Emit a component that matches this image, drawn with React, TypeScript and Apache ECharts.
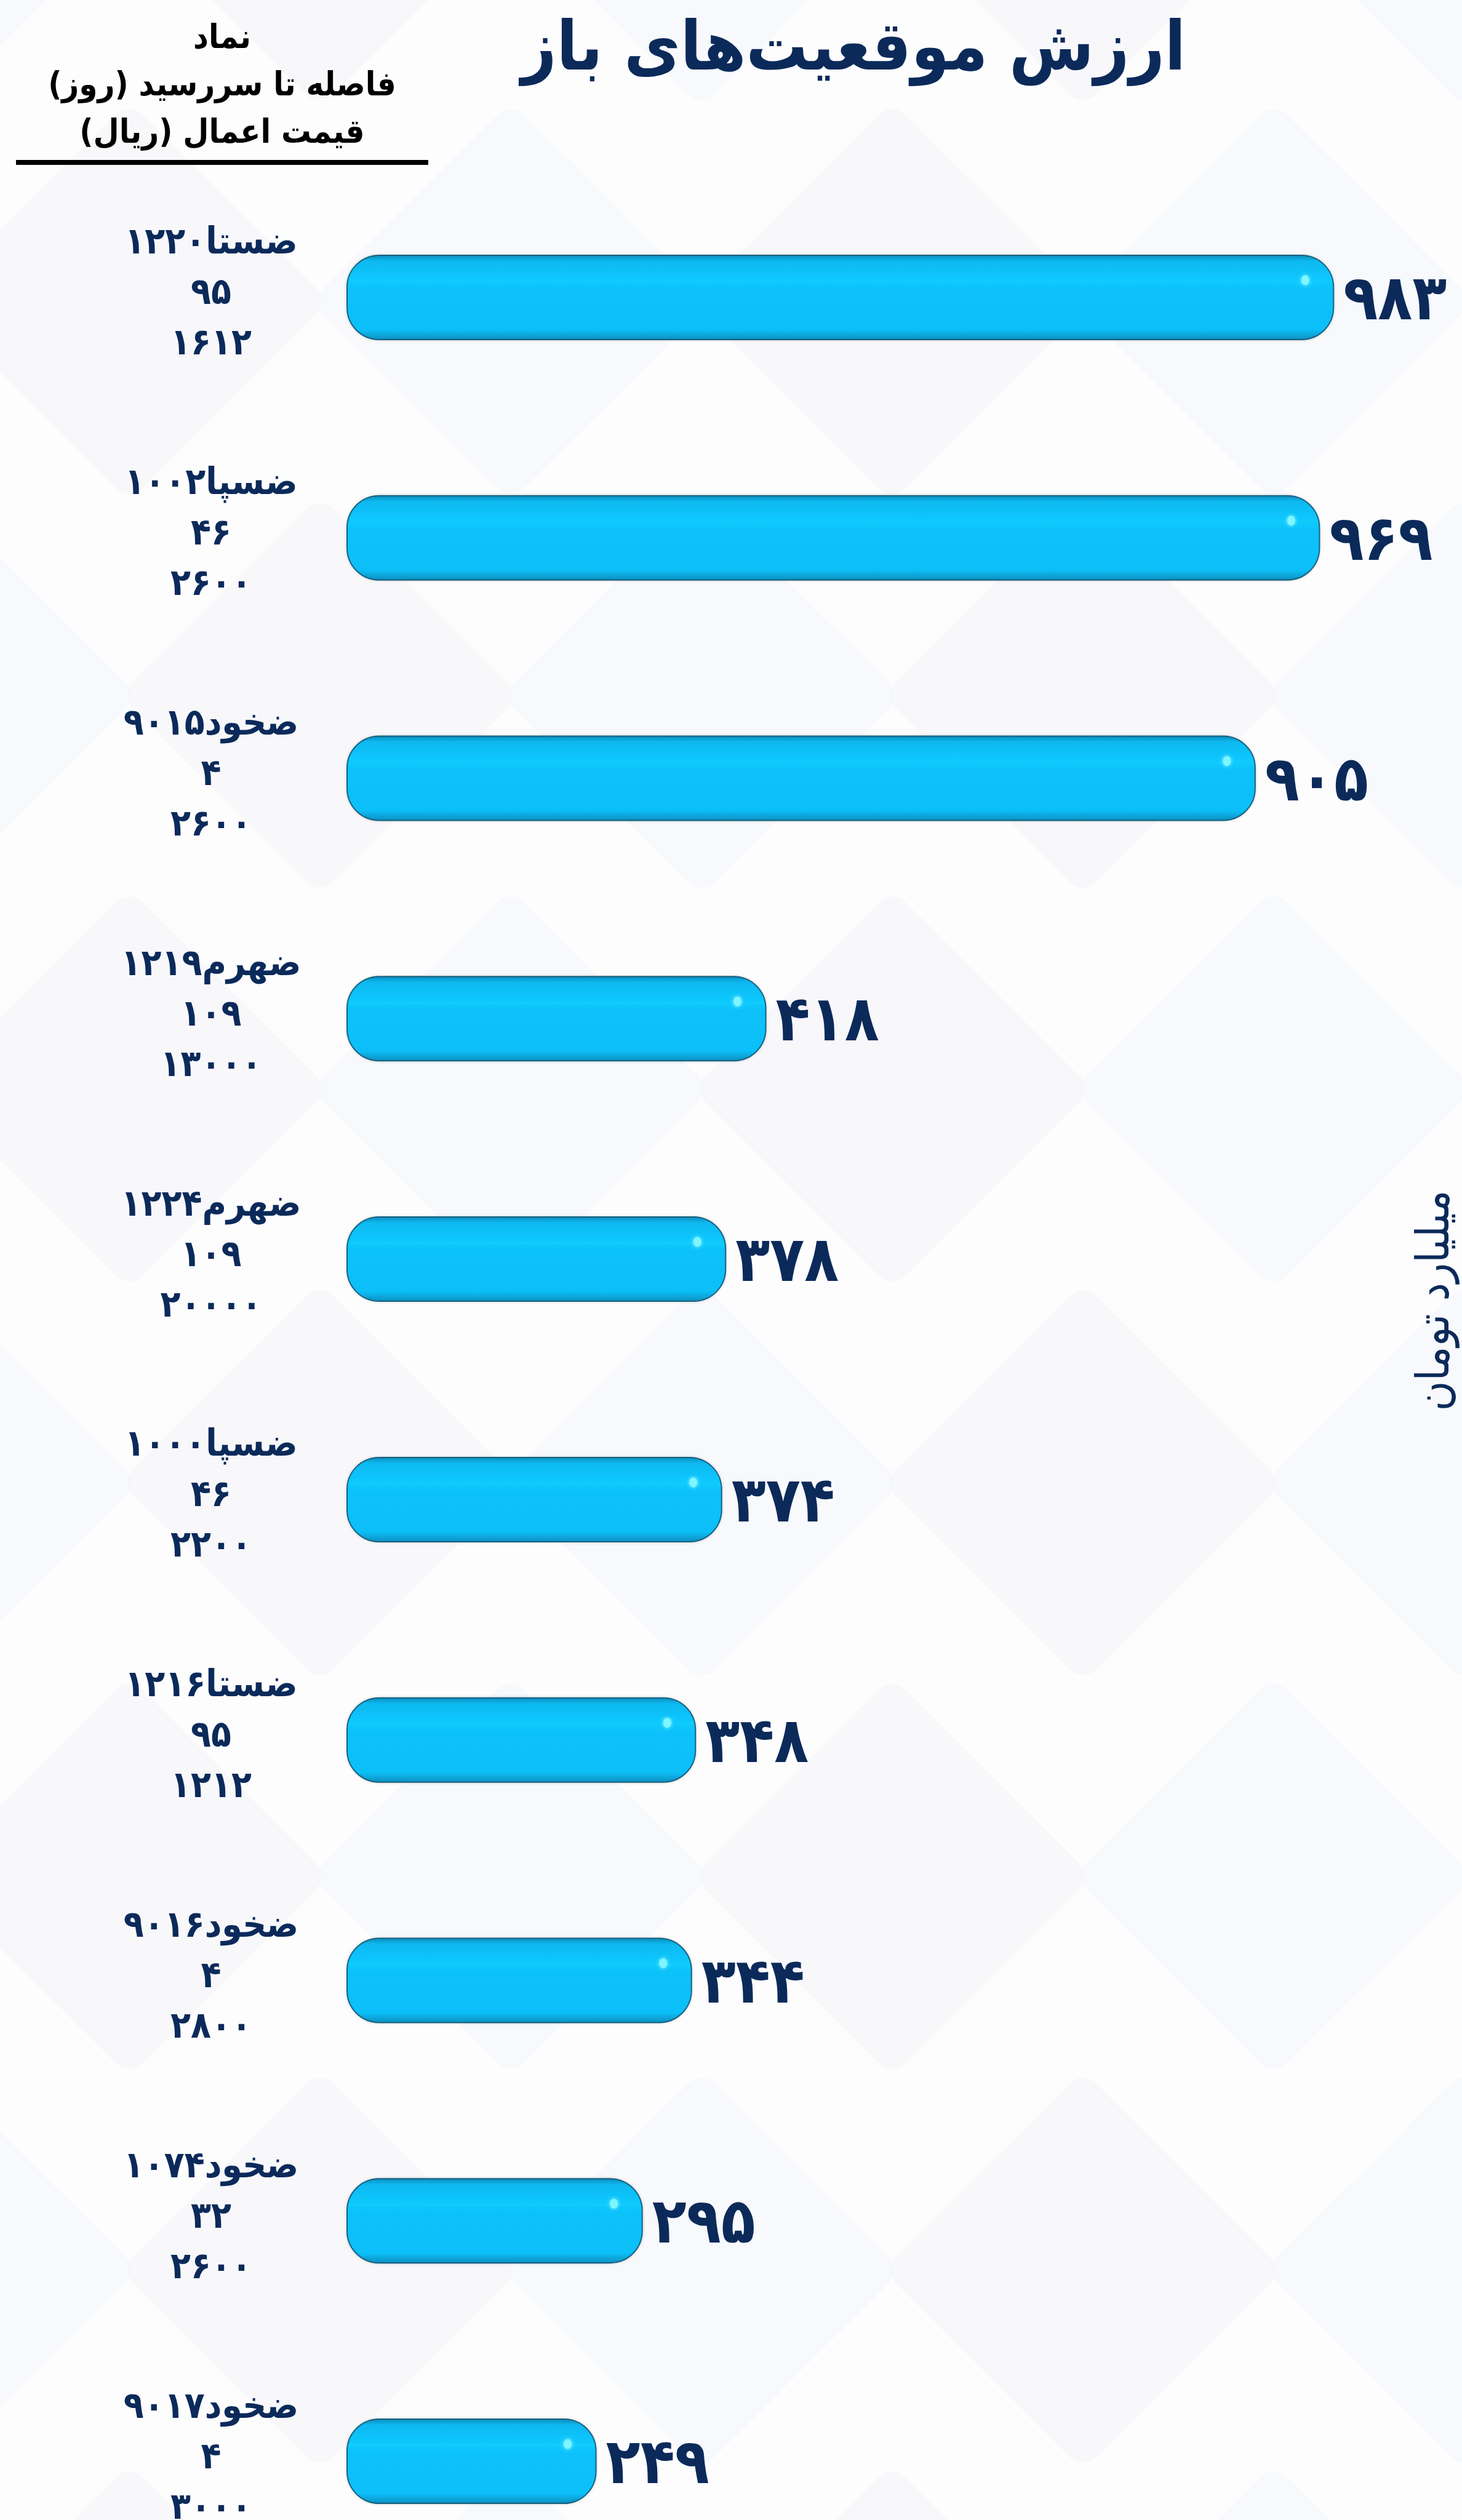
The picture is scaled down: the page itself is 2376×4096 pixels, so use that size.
import React, { useEffect, useRef } from "react";
import * as echarts from "echarts";

const symbols = ["ضستا۱۲۲۰", "ضسپا۱۰۰۲", "ضخود۹۰۱۵", "ضهرم۱۲۱۹", "ضهرم۱۲۲۴", "ضسپا۱۰۰۰", "ضستا۱۲۱۶", "ضخود۹۰۱۶", "ضخود۱۰۷۴", "ضخود۹۰۱۷"];
const daysToMaturity = ["۹۵", "۴۶", "۴", "۱۰۹", "۱۰۹", "۴۶", "۹۵", "۴", "۳۲", "۴"];
const strikePrices = ["۱۶۱۲", "۲۶۰۰", "۲۶۰۰", "۱۳۰۰۰", "۲۰۰۰۰", "۲۲۰۰", "۱۲۱۲", "۲۸۰۰", "۲۶۰۰", "۳۰۰۰"];
const openValues = [983, 969, 905, 418, 378, 374, 348, 344, 295, 249];

const titleText = "ارزش موقعیت‌های باز";
const headerLines = ["نماد", "\u200Fفاصله تا سررسید (روز)\u200F", "\u200Fقیمت اعمال (ریال)\u200F"];
const unitText = "میلیارد تومان";

const NAVY = "#0b2a5a";
const FONT = "'DejaVu Sans Condensed', 'DejaVu Sans', sans-serif";

const toFa = (v: number | string) => String(v).replace(/\d/g, (d) => "۰۱۲۳۴۵۶۷۸۹"[+d]);

export default function App() {
  const ref = useRef<HTMLDivElement>(null);
  useEffect(() => {
    if (!ref.current) return;
    const chart = echarts.init(ref.current, null, { renderer: "svg" });
    const categories = symbols.map((s, i) => `${s}\n${daysToMaturity[i]}\n${strikePrices[i]}`);

    const bg: any[] = [];
    for (let j = 0; j < 8; j++) {
      for (let i = 0; i < 5; i++) {
        const cx = -100 + i * 620 + (j % 2) * 310;
        const cy = -150 + j * 640;
        bg.push({
          type: "rect",
          x: cx,
          y: cy,
          rotation: Math.PI / 4,
          shape: { x: -230, y: -230, width: 460, height: 460, r: 30 },
          style: { fill: (i + j) % 2 ? "#f3f3f7" : "#f2f6fa", opacity: 0.5 },
          z: -10,
          silent: true,
        });
      }
    }

    chart.setOption({
      animation: false,
      backgroundColor: "#fdfdfe",
      grid: { left: 563, top: 288, width: 1633, height: 3908, containLabel: false },
      xAxis: {
        type: "value",
        min: 0,
        max: 1000,
        show: false,
      },
      yAxis: {
        type: "category",
        inverse: true,
        data: categories,
        axisLine: { show: false },
        axisTick: { show: false },
        splitLine: { show: false },
        axisLabel: {
          align: "center",
          margin: 220,
          formatter: (v: string) =>
            v.split("\n").map((l) => `{t|${l}}`).join("\n") + "\n{g| }",
          rich: {
            t: {
              color: NAVY,
              fontFamily: FONT,
              fontWeight: "bold",
              fontSize: 60,
              lineHeight: 82,
              align: "center",
            },
            g: { fontSize: 4, lineHeight: 20, align: "center" },
          },
        },
      },
      graphic: [
        ...bg,
        {
          type: "text",
          x: 1387,
          y: 74,
          z: 10,
          style: {
            text: titleText,
            fill: NAVY,
            font: `bold 111px ${FONT}`,
            align: "center",
            verticalAlign: "middle",
          },
        },
        {
          type: "text",
          x: 361,
          y: 136,
          z: 10,
          style: {
            text: headerLines.join("\n"),
            fill: "#000",
            font: `bold 54px ${FONT}`,
            lineHeight: 77,
            align: "center",
            verticalAlign: "middle",
          },
        },
        {
          type: "line",
          z: 10,
          shape: { x1: 26, y1: 264, x2: 696, y2: 264 },
          style: { stroke: "#000", lineWidth: 8 },
        },
        {
          type: "text",
          x: 2328,
          y: 2114,
          rotation: Math.PI / 2,
          z: 10,
          style: {
            text: unitText,
            fill: NAVY,
            font: `74px ${FONT}`,
            align: "center",
            verticalAlign: "middle",
          },
        },
      ],
      series: [
        {
          type: "bar",
          data: openValues,
          barWidth: 139,
          z: 2,
          itemStyle: {
            borderRadius: 52,
            borderColor: "rgba(12,88,118,0.9)",
            borderWidth: 2,
            shadowBlur: 4,
            shadowColor: "rgba(0,0,0,0.18)",
            color: new echarts.graphic.LinearGradient(0, 0, 0, 1, [
              { offset: 0, color: "#0a8dbd" },
              { offset: 0.07, color: "#08b9f0" },
              { offset: 0.24, color: "#0bc5fc" },
              { offset: 0.31, color: "#12cbfd" },
              { offset: 0.4, color: "#07c1fb" },
              { offset: 0.88, color: "#07bff8" },
              { offset: 1, color: "#0a90c0" },
            ]),
          },
          label: {
            show: true,
            position: "right",
            distance: 15,
            color: NAVY,
            fontFamily: FONT,
            fontWeight: "bold",
            fontSize: 102,
            formatter: (p: any) => toFa(p.value),
          },
        },
        {
          type: "scatter",
          data: openValues,
          symbol: "circle",
          symbolSize: [13, 16],
          symbolOffset: [-47, -28],
          z: 3,
          silent: true,
          itemStyle: {
            color: "#7ff6ff",
            opacity: 0.9,
            shadowBlur: 6,
            shadowColor: "#9fffff",
          },
        },
      ],
    });
    return () => chart.dispose();
  }, []);
  return (
    <div style={{ position: "absolute", left: 0, top: 0, width: 2376, height: 4096, overflow: "hidden" }}>
      <div ref={ref} style={{ width: 2376, height: 4300 }} />
    </div>
  );
}
